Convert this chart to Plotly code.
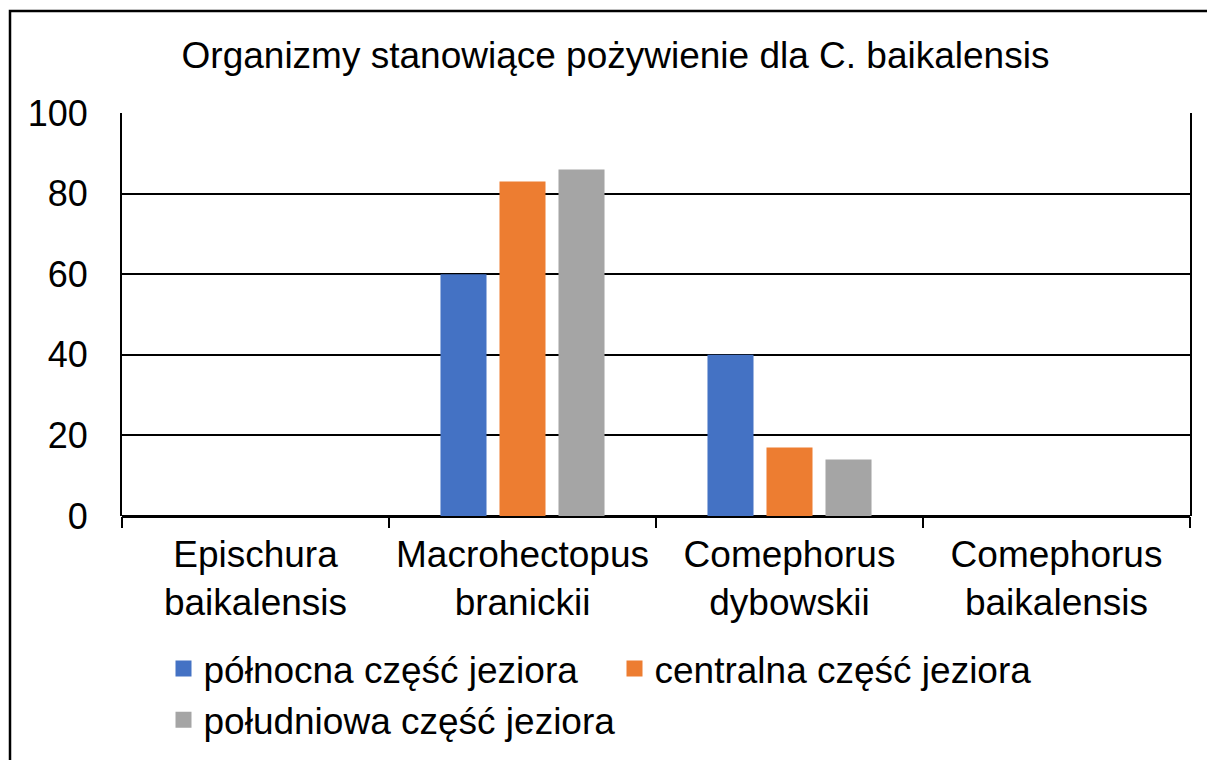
import plotly.graph_objects as go

categories = ["Epischura<br>baikalensis", "Macrohectopus<br>branickii",
              "Comephorus<br>dybowskii", "Comephorus<br>baikalensis"]
series_names = ["północna część jeziora", "centralna część jeziora", "południowa część jeziora"]
north = [0, 60, 40, 0]
central = [0, 83, 17, 0]
south = [0, 86, 14, 0]
colors = ["#4472C4", "#ED7D31", "#A5A5A5"]
y_ticks = [0, 20, 40, 60, 80, 100]

FONT = "Liberation Sans, Arial, sans-serif"

fig = go.Figure()
for name, vals, col in zip(series_names, [north, central, south], colors):
    fig.add_trace(go.Bar(x=categories, y=vals, name=name, marker_color=col,
                         marker_line_width=0, showlegend=False))
# legend entries with larger square swatches
for name, col in zip(series_names, colors):
    fig.add_trace(go.Scatter(x=[None], y=[None], mode="markers", name=name,
                             marker=dict(symbol="square", size=16, color=col),
                             showlegend=True, hoverinfo="skip"))

W, H = 1215, 760
L, R, T, B = 114, 33, 105, 252
pw, ph = W - L - R, H - T - B

fig.update_layout(
    width=W, height=H,
    margin=dict(l=L, r=R, t=T, b=B, autoexpand=False),
    paper_bgcolor="white", plot_bgcolor="white",
    font=dict(family=FONT, size=37, color="black"),
    title=dict(text="Organizmy stanowiące pożywienie dla C. baikalensis",
               x=0.5, xanchor="center", xref="container",
               y=1 - 47 / H, yanchor="middle", yref="container",
               font=dict(size=37, family=FONT, color="black")),
    barmode="group", bargap=0.337, bargroupgap=0.22,
    showlegend=True,
    legend=dict(orientation="h", x=(155.5 - L) / pw, xanchor="left",
                y=(H - B - 630) / ph, yanchor="top",
                font=dict(size=37, family=FONT, color="black"),
                entrywidth=406, entrywidthmode="pixels", itemsizing="trace",
                bgcolor="rgba(0,0,0,0)"),
    xaxis=dict(type="category", showgrid=False, showline=False, zeroline=False,
               ticks="outside", tickson="boundaries", ticklen=11, tickwidth=2,
               tickcolor="black", tickfont=dict(size=37, family=FONT),
               ticklabelstandoff=13, fixedrange=True),
    yaxis=dict(range=[0, 100], tickvals=y_ticks, showgrid=True, gridcolor="black",
               gridwidth=2, showline=True, mirror=True, linecolor="black",
               linewidth=2, zeroline=True, zerolinecolor="black", zerolinewidth=3,
               ticks="", tickfont=dict(size=36, family=FONT), ticklabelstandoff=25,
               fixedrange=True),
)

# outer chart border (only left and top edges visible in the frame)
fig.add_shape(type="rect", xref="paper", yref="paper",
              x0=(2 - L) / pw, x1=(W + 20 - L) / pw,
              y0=(H - B - (H + 20)) / ph, y1=(H - B - 3) / ph,
              line=dict(color="black", width=2.5), fillcolor="rgba(0,0,0,0)",
              layer="above")

fig.write_html("out.html")
